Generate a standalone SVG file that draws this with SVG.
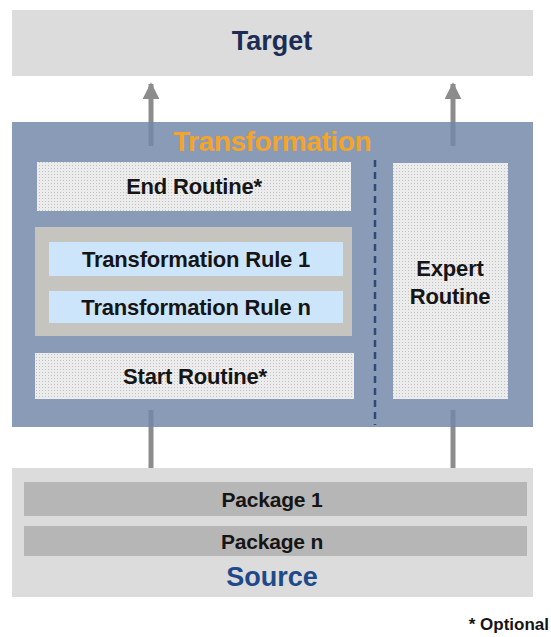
<svg xmlns="http://www.w3.org/2000/svg" width="551" height="637" viewBox="0 0 551 637">
<defs>
<pattern id="dots" width="3" height="3" patternUnits="userSpaceOnUse">
<rect width="3" height="3" fill="#ececec"/>
<rect width="1" height="1" fill="#c2c2c2"/>
</pattern>
<marker id="ah" viewBox="0 0 10 10" refX="9" refY="5" markerWidth="3.4" markerHeight="3.4" orient="auto" markerUnits="strokeWidth">
<path d="M0,0 L10,5 L0,10 Z" fill="#8c8c8c"/>
</marker>
</defs>
<style>
text{font-family:"Liberation Sans",Arial,sans-serif;font-weight:bold;text-anchor:middle}
.lbl{font-size:22px;fill:#151515;letter-spacing:-0.2px}
.pkg{font-size:21px;fill:#151515;letter-spacing:-0.2px}
.dot{fill:url(#dots)}
.rule{fill:#cde5fa}
.pk{fill:#b6b6b6}
.outer{fill:#dcdcdc}
.arrow{stroke:#8c8c8c;stroke-width:5;fill:none}
</style>
<rect width="551" height="637" fill="#ffffff"/>
<g id="connectors">
<line class="arrow" x1="151" y1="146" x2="151" y2="84" marker-end="url(#ah)"/>
<line class="arrow" x1="453" y1="146" x2="453" y2="84" marker-end="url(#ah)"/>
<line class="arrow" x1="151" y1="469" x2="151" y2="410"/>
<line class="arrow" x1="453" y1="469" x2="453" y2="410"/>
</g>
<g id="target">
<rect class="outer" x="12" y="10" width="521" height="66"/>
<text x="272" y="50" style="font-size:27px;fill:#1b2d55">Target</text>
</g>
<g id="transformation">
<rect x="12" y="122" width="521" height="305" fill="#7388aa" fill-opacity="0.84"/>
<text x="272" y="151" style="font-size:28px;fill:#f2a52a;letter-spacing:-0.4px">Transformation</text>
<line x1="375" y1="160" x2="375" y2="425" stroke="#2e4a7a" stroke-width="2.5" stroke-dasharray="7 5"/>
</g>
<g id="end-routine">
<rect class="dot" x="37" y="162" width="314" height="49"/>
<text class="lbl" x="194" y="194">End Routine*</text>
</g>
<g id="rules">
<rect x="35" y="227" width="317" height="109" fill="#c6c4be"/>
</g>
<g id="rule-1">
<rect class="rule" x="49" y="242" width="294" height="34"/>
<text class="lbl" x="196" y="267">Transformation Rule 1</text>
</g>
<g id="rule-n">
<rect class="rule" x="49" y="291" width="294" height="32"/>
<text class="lbl" x="196" y="315">Transformation Rule n</text>
</g>
<g id="start-routine">
<rect class="dot" x="35" y="353" width="319" height="46"/>
<text class="lbl" x="195" y="384">Start Routine*</text>
</g>
<g id="expert-routine">
<rect class="dot" x="393" y="163" width="115" height="236"/>
<text class="lbl" x="450" y="276">Expert</text>
<text class="lbl" x="450" y="304">Routine</text>
</g>
<g id="source">
<rect class="outer" x="12" y="468" width="521" height="129"/>
<text x="272" y="586" style="font-size:27px;fill:#1f4a8a">Source</text>
</g>
<g id="package-1">
<rect class="pk" x="24" y="482" width="503" height="34"/>
<text class="pkg" x="272" y="507">Package 1</text>
</g>
<g id="package-n">
<rect class="pk" x="24" y="526" width="503" height="30"/>
<text class="pkg" x="272" y="549">Package n</text>
</g>
<g id="note">
<text x="549" y="630" style="font-size:17px;fill:#151515;text-anchor:end">* Optional</text>
</g>
</svg>
